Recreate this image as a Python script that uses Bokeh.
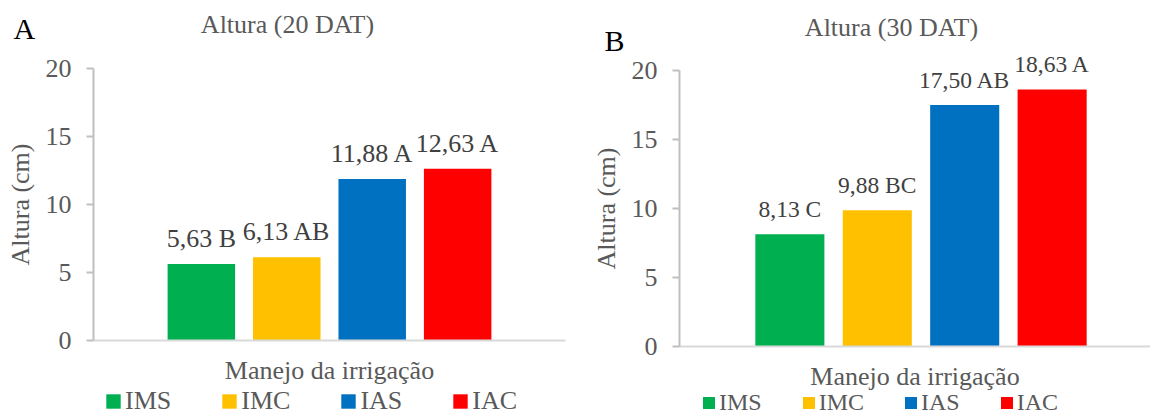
from bokeh.plotting import figure
from bokeh.models import (Range1d, FixedTicker, Label, LabelSet, Legend, LegendItem,
                          ColumnDataSource)
from bokeh.layouts import row
from bokeh.embed import file_html
from bokeh.resources import INLINE

# ---------------- data ----------------
series = ["IMS", "IMC", "IAS", "IAC"]
colors = ["#00B050", "#FFC000", "#0070C0", "#FF0000"]
altura_20 = [5.63, 6.13, 11.88, 12.63]
letras_20 = ["B", "AB", "A", "A"]
altura_30 = [8.13, 9.88, 17.50, 18.63]
letras_30 = ["C", "BC", "AB", "A"]
y_ticks = [0, 5, 10, 15, 20]
x_title = "Manejo da irrigação"
y_title = "Altura (cm)"

FONT = "Liberation Serif"
GREY = "#595959"
BAR_STEP = 0.181
BAR_W = 0.143
H = 416


def make_panel(letter, title, values, letters, width, axis_x, cat_px, zero_y, top_y,
               label_size, legend_size, glyph, legend_loc, legend_spacing,
               letter_px, title_px):
    # pixel layout -> data ranges (frame covers the whole figure)
    center = axis_x + cat_px / 2.0
    ppu = (zero_y - top_y) / 20.0
    xr = Range1d(-center / cat_px, (width - center) / cat_px)
    yr = Range1d(-(H - zero_y) / ppu, 20 + top_y / ppu)

    def dx(px):
        return (px - center) / cat_px

    def dy(py):
        return (zero_y - py) / ppu

    p = figure(width=width, height=H, x_range=xr, y_range=yr, title=None,
               output_backend="svg", toolbar_location=None,
               min_border_left=0, min_border_right=0, min_border_top=0, min_border_bottom=0,
               outline_line_color=None, background_fill_color="white",
               border_fill_color="white")
    p.xgrid.visible = False
    p.ygrid.visible = False

    ya = p.yaxis[0]
    ya.fixed_location = -0.5
    ya.bounds = (0, 20)
    ya.ticker = FixedTicker(ticks=y_ticks)
    ya.major_label_text_font = FONT
    ya.major_label_text_font_size = "26px"
    ya.major_label_text_color = GREY
    ya.axis_line_color = "#bfbfbf"
    ya.axis_line_width = 2
    ya.major_tick_line_color = "#bfbfbf"
    ya.major_tick_line_width = 2
    ya.major_tick_out = 7
    ya.major_tick_in = 0
    ya.minor_tick_line_color = None
    ya.major_label_standoff = 15
    ya.axis_label = y_title
    ya.axis_label_text_font = FONT
    ya.axis_label_text_font_size = "26px"
    ya.axis_label_text_font_style = "normal"
    ya.axis_label_text_color = GREY
    ya.axis_label_standoff = 8

    xa = p.xaxis[0]
    xa.fixed_location = 0
    xa.bounds = (-0.5, 0.5)
    xa.ticker = FixedTicker(ticks=[])
    xa.axis_line_color = "#d9d9d9"
    xa.axis_line_width = 2
    xa.major_tick_line_color = None
    xa.minor_tick_line_color = None
    xa.major_label_text_font_size = "0px"
    xa.axis_label = x_title
    xa.axis_label_text_font = FONT
    xa.axis_label_text_font_size = "26px"
    xa.axis_label_text_font_style = "normal"
    xa.axis_label_text_color = GREY
    xa.axis_label_standoff = 15

    n = len(values)
    xs = [(i - (n - 1) / 2) * BAR_STEP for i in range(n)]
    labels = [f"{v:.2f}".replace(".", ",") + " " + l for v, l in zip(values, letters)]
    src = ColumnDataSource(dict(x=xs, top=values, color=colors, label=labels))
    r = p.vbar(x="x", top="top", bottom=0, width=BAR_W, fill_color="color",
               line_color=None, source=src)

    p.add_layout(LabelSet(x="x", y="top", text="label", source=src, text_font=FONT,
                          text_font_size=label_size, text_color="#404040",
                          text_align="center", text_baseline="alphabetic", y_offset=17))

    items = [LegendItem(label=s, renderers=[r], index=i) for i, s in enumerate(series)]
    leg = Legend(items=items, location=legend_loc, orientation="horizontal",
                 glyph_width=glyph, glyph_height=glyph, label_standoff=3,
                 label_text_font=FONT, label_text_font_size=legend_size,
                 label_text_color=GREY, spacing=legend_spacing, padding=0, margin=0,
                 border_line_color=None, background_fill_alpha=0)
    p.add_layout(leg)

    p.add_layout(Label(x=dx(letter_px[0]), y=dy(letter_px[1]), text=letter, text_font=FONT,
                       text_font_size="30px", text_color="black", text_align="left",
                       text_baseline="alphabetic"))
    p.add_layout(Label(x=dx(title_px[0]), y=dy(title_px[1]), text=title, text_font=FONT,
                       text_font_size="26px", text_color=GREY, text_align="center",
                       text_baseline="alphabetic"))
    return p


pA = make_panel("A", "Altura (20 DAT)", altura_20, letras_20, 580, 93, 472, 340, 68,
                "26px", "26px", 18, (104, 0), 49, (13, 28), (287, 24))
pB = make_panel("B", "Altura (30 DAT)", altura_30, letras_30, 570, 99, 483, 346, 70,
                "23.5px", "24px", 15, (121, 0), 39, (24, 40), (311, 27))

layout = row(pA, pB)
open("out.html", "w").write(file_html(layout, INLINE))
